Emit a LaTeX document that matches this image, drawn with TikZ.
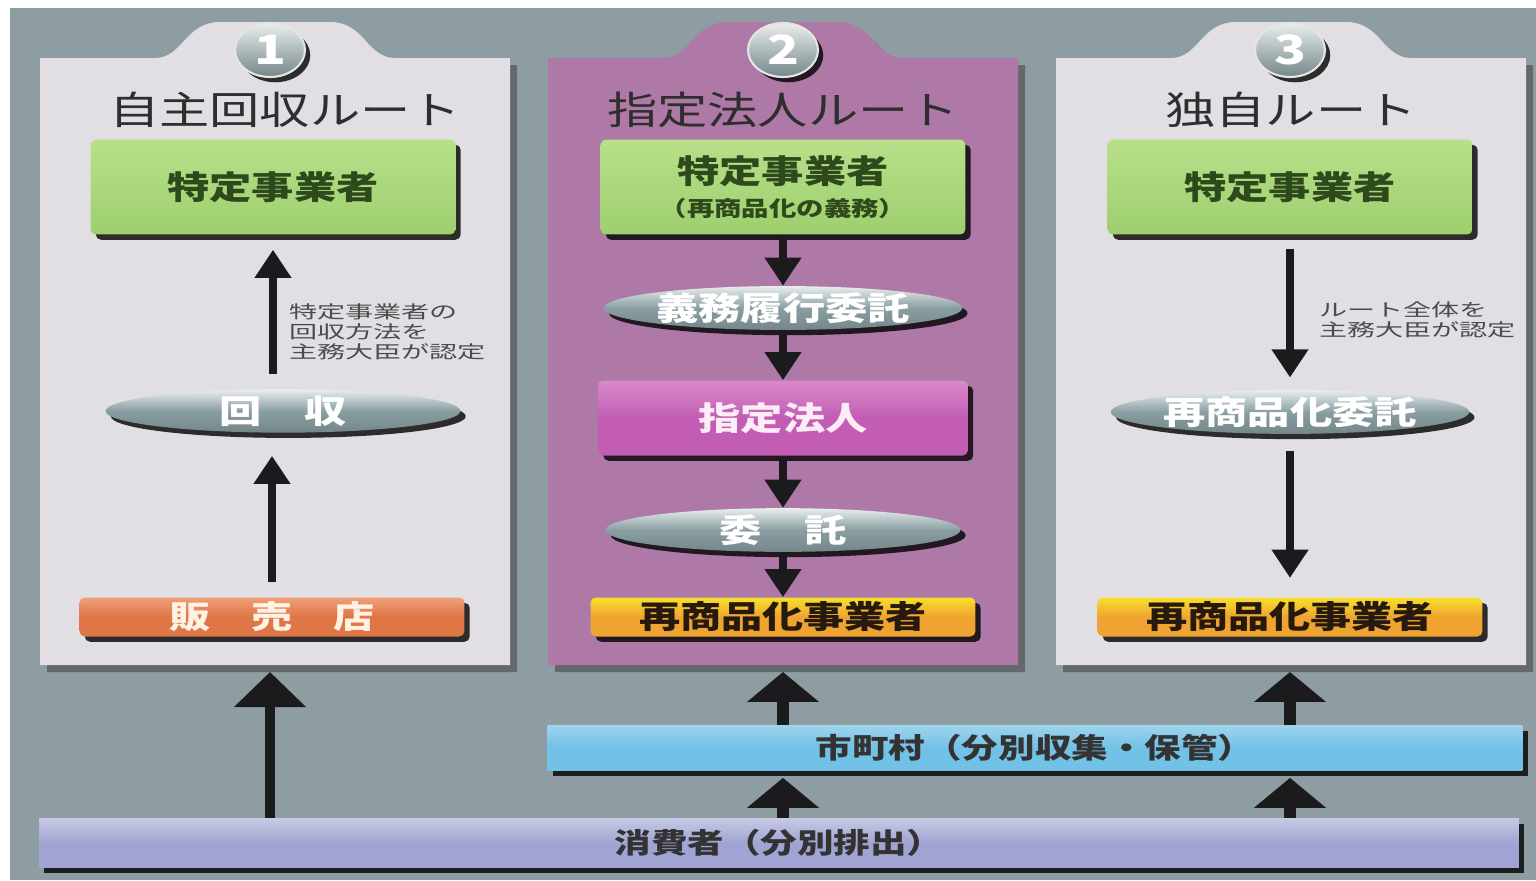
\documentclass[tikz,border=0pt]{standalone}
\usepackage{fontspec}
\newfontfamily\jp[FakeStretch=1.3]{Noto Sans CJK JP}
\newfontfamily\jpnote[FakeStretch=1.6]{Noto Sans CJK JP}
\usepackage{tikz}
\usetikzlibrary{arrows.meta, shadows, shapes.geometric, positioning, calc}

\definecolor{bgGray}{HTML}{8E9DA1}
\definecolor{paneLight}{HTML}{E1DFE4}
\definecolor{panePurple}{HTML}{AE79A7}
\definecolor{boxGreen}{HTML}{9ECF6E}
\definecolor{boxGreenTop}{HTML}{B8E08A}
\definecolor{txtGreen}{HTML}{2E4A1C}
\definecolor{ovalTop}{HTML}{E9EEEE}
\definecolor{ovalGray}{HTML}{899EA2}
\definecolor{boxMagenta}{HTML}{C25DB3}
\definecolor{boxMagentaTop}{HTML}{DA8ACD}
\definecolor{boxOrange}{HTML}{EFA431}
\definecolor{boxYellow}{HTML}{F7E02C}
\definecolor{boxSalmon}{HTML}{DE7646}
\definecolor{boxSalmonTop}{HTML}{EF9F78}
\definecolor{barBlue}{HTML}{72C1E6}
\definecolor{barLavender}{HTML}{A1A4D3}
\definecolor{arrowBlack}{HTML}{1B1B1D}

\begin{document}
\begin{tikzpicture}[x=0.02cm, y=-0.02cm,
    shade/.style={drop shadow={shadow xshift=3pt, shadow yshift=-3pt, fill=black, opacity=.8}},
    numball/.style={ellipse, minimum width=1.4cm, minimum height=1.08cm, inner sep=0pt,
        top color=ovalTop, bottom color=ovalGray!85!black, draw=white!80!gray, line width=1.2pt,
        shade, text=white, font=\jp\bfseries\fontsize{23}{23}\selectfont},
    title/.style={text=black!82, font=\jp\fontsize{22}{24}\selectfont},
    gbox/.style={rectangle, rounded corners=3pt, minimum width=7.3cm, minimum height=1.9cm,
        top color=boxGreenTop, bottom color=boxGreen, shade, text=txtGreen, align=center,
        font=\jp\bfseries\fontsize{18.5}{21}\selectfont},
    oval/.style={ellipse, minimum width=7.1cm, minimum height=0.85cm, inner sep=0pt,
        top color=ovalTop, bottom color=ovalGray!85!black, middle color=ovalGray, shade,
        text=white, font=\jp\bfseries\fontsize{18.5}{20}\selectfont},
    mbox/.style={rectangle, rounded corners=3pt, minimum width=7.4cm, minimum height=1.5cm,
        top color=boxMagentaTop, bottom color=boxMagenta, middle color=boxMagenta, shade,
        text=white!92!magenta, font=\jp\bfseries\fontsize{18.5}{20}\selectfont},
    obox/.style={rectangle, rounded corners=3pt, minimum width=7.7cm, minimum height=0.78cm, inner sep=0pt,
        top color=boxYellow, bottom color=boxOrange, middle color=boxOrange, shade,
        text=black!80!brown, font=\jp\bfseries\fontsize{18}{20}\selectfont},
    sbox/.style={obox, top color=boxSalmonTop, bottom color=boxSalmon, middle color=boxSalmon,
        text=white!90!orange},
    bar/.style={rectangle, minimum height=0.9cm, inner sep=0pt, shade, text=black!80,
        font=\jp\bfseries\fontsize{16}{18}\selectfont},
    note/.style={anchor=west, align=left, text=black!70, font=\jpnote\fontsize{10}{11.4}\selectfont},
    arr/.style={line width=4pt, arrowBlack, -{Triangle[width=20pt, length=16pt]}},
    bigarr/.style={line width=5.5pt, arrowBlack, -{Triangle[width=40pt, length=20pt]}},
    stubarr/.style={line width=7pt, arrowBlack, -{Triangle[width=40pt, length=17pt]}}]

    \useasboundingbox (0,0) rectangle (1536,880);
    \fill[white] (0,0) rectangle (1536,880);
    \fill[bgGray] (10,8) rectangle (1536,880);

    \foreach \c/\col in {275/paneLight, 783/panePurple, 1291/paneLight}
        \fill[\col, drop shadow={shadow xshift=4pt, shadow yshift=-4pt, fill=black!75, opacity=.55}]
            (\c-235,58) -- (\c-120,58) .. controls (\c-92,58) and (\c-90,22) .. (\c-55,22)
            -- (\c+55,22) .. controls (\c+90,22) and (\c+92,58) .. (\c+120,58)
            -- (\c+235,58) -- (\c+235,665) -- (\c-235,665) -- cycle;

    \coordinate (P1) at (270,665);
    \coordinate (P2) at (783,665);
    \coordinate (P3) at (1290,665);

    \node[numball] (N1) at (270,50) {1};
    \node[numball] (N2) at (783,50) {2};
    \node[numball] (N3) at (1290,50) {3};

    \node[title] (T1) at (285,110) {自主回収ルート};
    \node[title] (T2) at (783,110) {指定法人ルート};
    \node[title] (T3) at (1291,110) {独自ルート};

    \node[gbox] (G1) at (273,187) {特定事業者};
    \node[gbox] (G2) at (783,187) {特定事業者\\[-2pt]{\fontsize{12}{13}\selectfont （再商品化の義務）}};
    \node[gbox] (G3) at (1290,187) {特定事業者};

    \node[oval] (K1) at (283,411) {回　収};
    \node[sbox] (R1) at (272,617) {販　売　店};
    \node[note] (C1) at (283,332) {特定事業者の\\回収方法を\\主務大臣が認定};

    \node[oval] (E2a) at (783,308) {義務履行委託};
    \node[mbox] (S2) at (783,418) {指定法人};
    \node[oval] (E2b) at (783,530) {委　託};
    \node[obox] (R2) at (783,617) {再商品化事業者};

    \node[oval] (K3) at (1290,412) {再商品化委託};
    \node[obox] (R3) at (1290,617) {再商品化事業者};
    \node[note] (C3) at (1313,320) {ルート全体を\\主務大臣が認定};

    \node[bar, minimum width=19.5cm, top color=barBlue!70!white, bottom color=barBlue, middle color=barBlue]
        (M) at (1035,748) {市町村（分別収集・保管）};
    \node[bar, minimum width=29.6cm, minimum height=0.98cm, top color=barLavender!60!white,
        bottom color=barLavender, middle color=barLavender] (C) at (779,843) {消費者（分別排出）};

    \draw[arr, shorten <=8.5pt, shorten >=8.5pt] (K1.north -| G1.south) -- (G1.south);
    \draw[arr, shorten <=8.5pt, shorten >=13pt] (R1.north) -- (R1.north |- K1.south);

    \draw[arr, shorten <=2pt] (G2.south) -- (E2a.north);
    \draw[arr] (E2a.south) -- (S2.north);
    \draw[arr, shorten <=2pt] (S2.south) -- (E2b.north);
    \draw[arr] (E2b.south) -- (R2.north);

    \draw[arr, shorten <=8pt, shorten >=7pt] (G3.south) -- (K3.north);
    \draw[arr, shorten <=9.5pt, shorten >=11pt] (K3.south) -- (R3.north);

    \draw[bigarr, shorten >=4pt] (C.north -| P1) -- (P1);
    \draw[stubarr, shorten >=4pt] (M.north -| P2) -- (P2);
    \draw[stubarr, shorten >=4pt] (M.north -| P3) -- (P3);
    \draw[stubarr, shorten >=4pt] (C.north -| P2) -- (M.south -| P2);
    \draw[stubarr, shorten >=4pt] (C.north -| P3) -- (M.south -| P3);
\end{tikzpicture}
\end{document}
